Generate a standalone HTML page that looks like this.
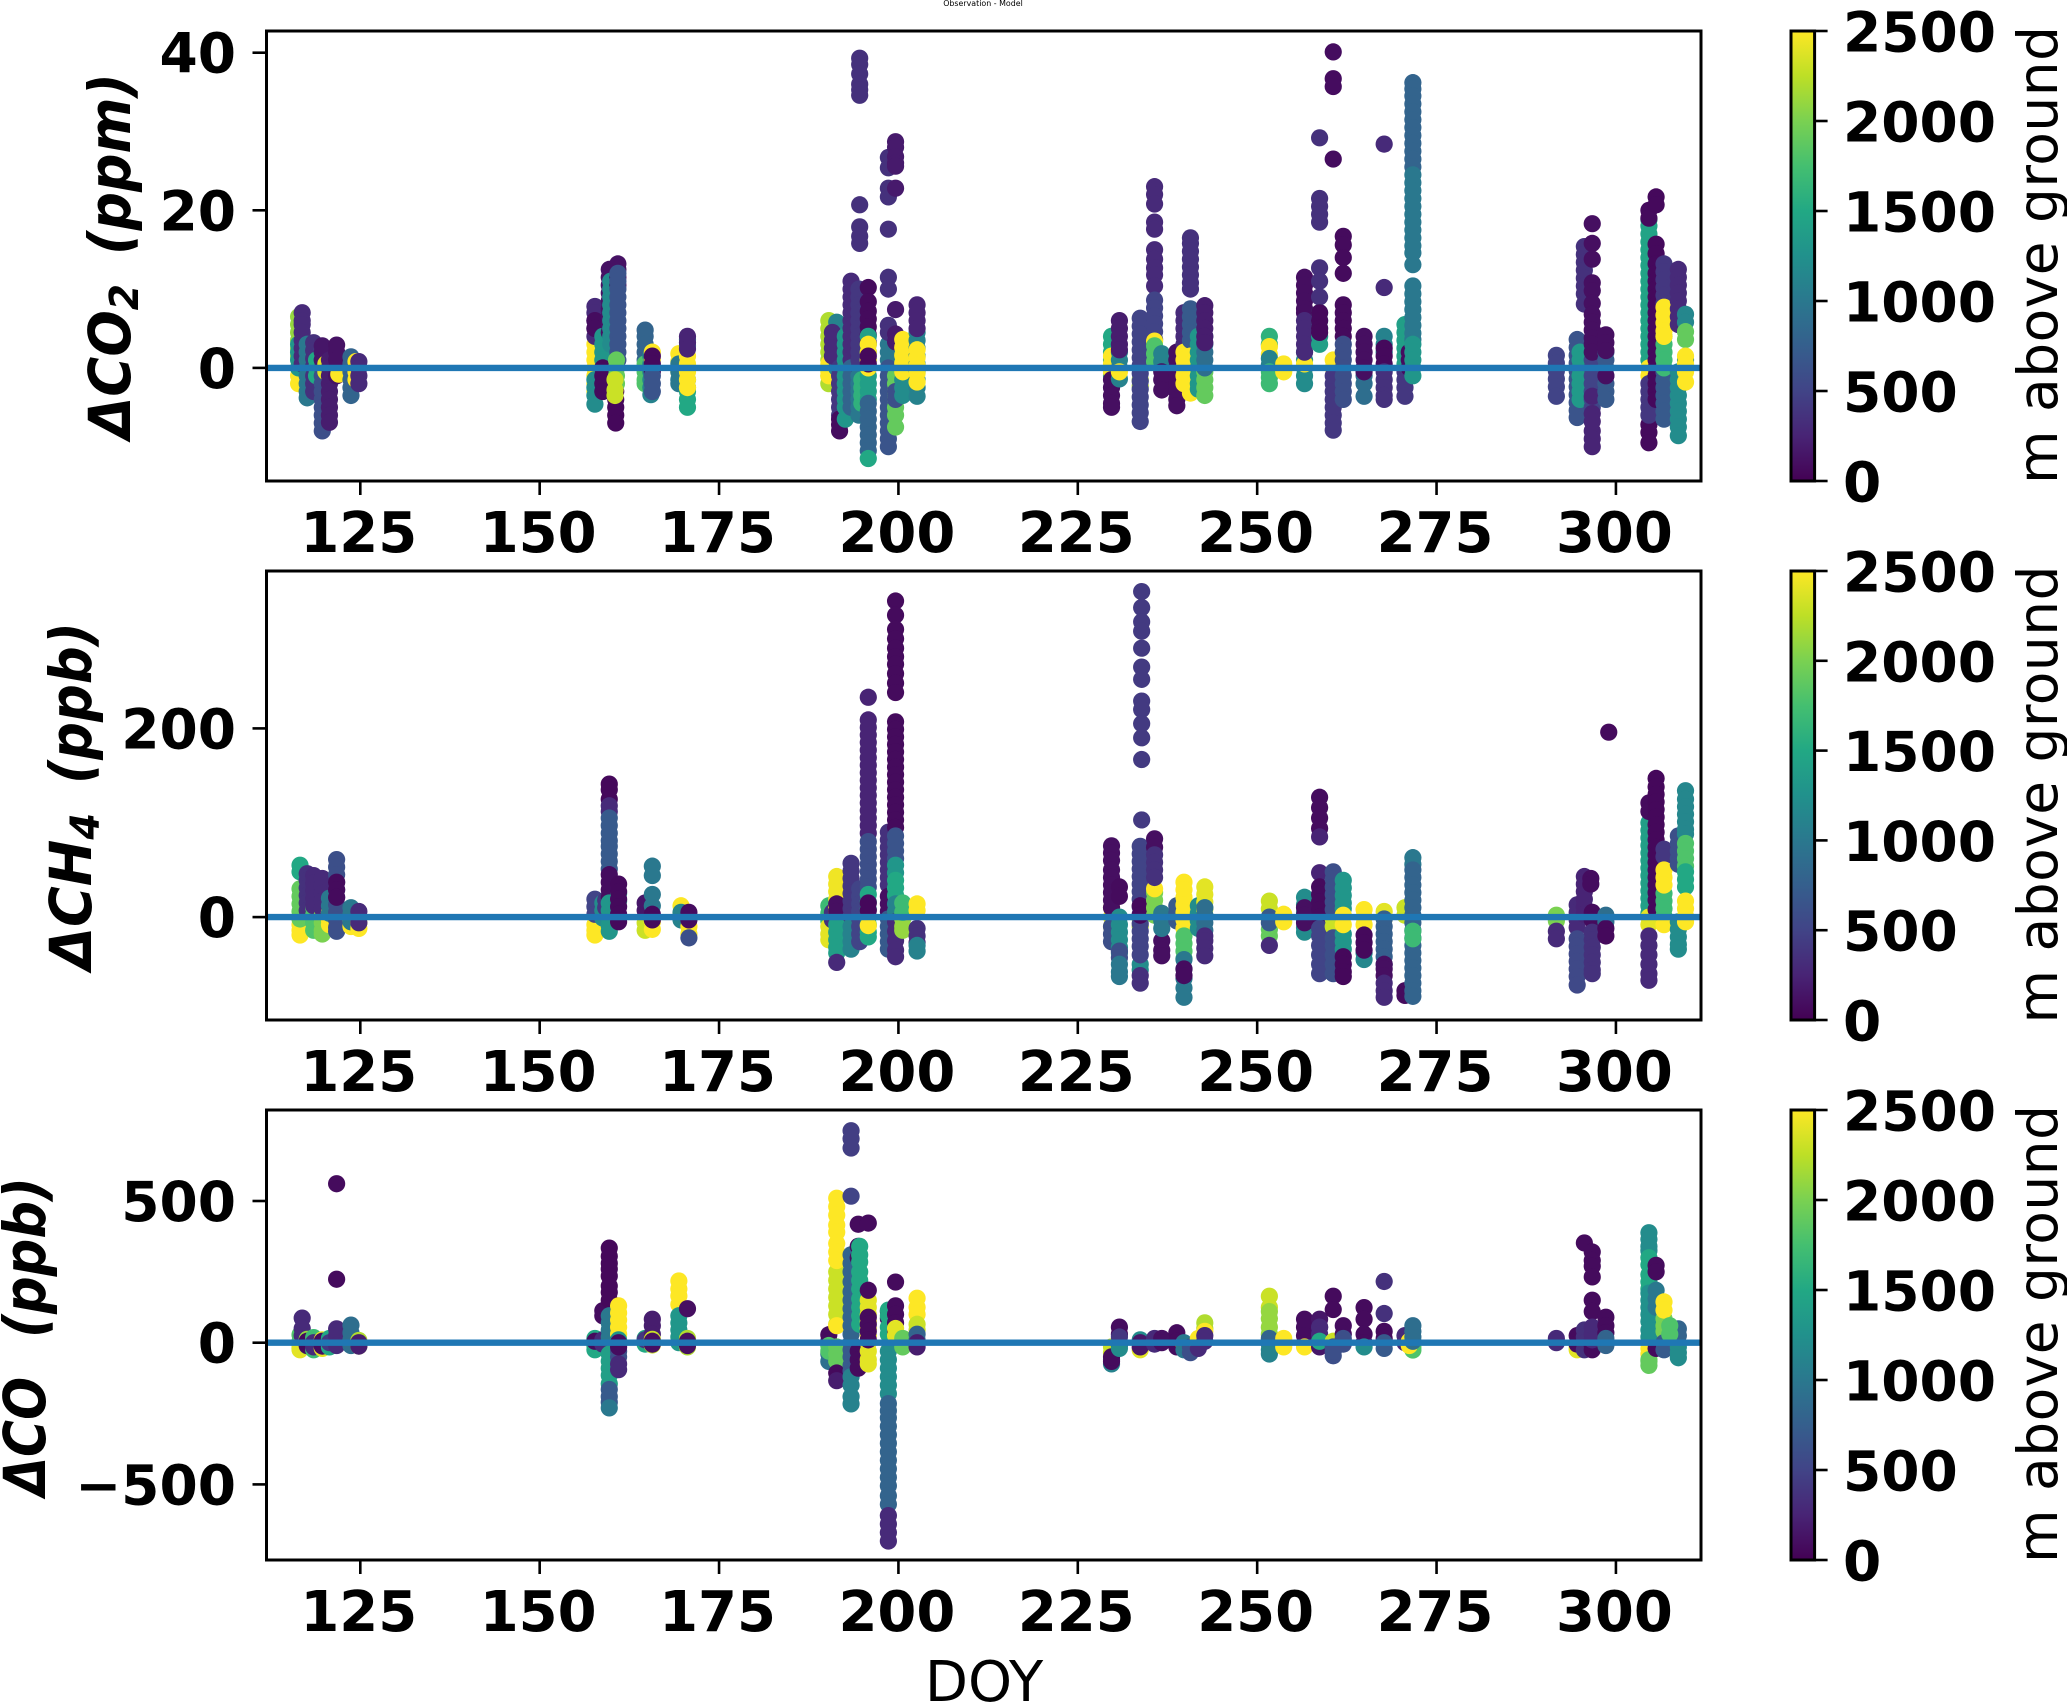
<!DOCTYPE html>
<html lang="en">
<head>
<meta charset="utf-8">
<title>Observation - Model</title>
<style>
html,body{margin:0;padding:0;background:#fff;}
svg{display:block;}
text{font-family:"DejaVu Sans","Liberation Sans",sans-serif;fill:#000;}
.tick{font-weight:700;font-size:55px;}
.xtick{font-weight:700;font-size:56px;}
.ylab{font-weight:700;font-style:italic;font-size:58px;}
</style>
</head>
<body>
<svg id="chart" xmlns="http://www.w3.org/2000/svg" width="2067" height="1703" viewBox="0 0 2067 1703">
  <defs><linearGradient id="viridis" x1="0" y1="1" x2="0" y2="0"></linearGradient></defs>
  <rect x="0" y="0" width="2067" height="1703" fill="#fff"/>
  <text x="983" y="6" text-anchor="middle" font-size="7.9">Observation - Model</text>
  <text x="984" y="1701" text-anchor="middle" font-size="56">DOY</text>
</svg>
<script>
// Shared axis values
const xTicks = [125,150,175,200,225,250,275,300];
const altTicks = [0,500,1000,1500,2000,2500];
const co2Ticks = [0,20,40];
const ch4Ticks = [0,200];
const coTicks = [-500,0,500];
const viridisStops = ["#440154","#482475","#414487","#355f8d","#2a788e","#21918c","#22a884","#44bf70","#7ad151","#bddf26","#fde725"];

// Each row: day of year, altitude (m above ground), observed differences at that day and altitude
const co2Strips = [
[116.4,2100,[6.5,5.5,4.5,3.5,2.5,1.5]],[116.4,2500,[-2,-1,0]],[116.4,1300,[3,2,1,0]],
[116.9,300,[7,6,5.5,4.5,3.5,2.5,1.5,0.5]],[117.6,1000,[3,2,1,0,-1,-2,-3,-3.8]],
[118.5,350,[3.2,2.2,1.2,0.2,-1,-2,-3]],[118.9,1500,[1,0,-1]],[119.7,600,[2.2,1,0,-1,-2,-3,-4,-5,-6,-7,-8]],
[119.7,150,[2.8,2,1]],[120.2,2400,[0.5,-0.5]],[120.7,200,[1,0,-1,-2,-3,-4,-5,-6,-6.9]],
[121.7,120,[2.9,2,1,0,-1]],[122,2500,[-0.8]],[123.7,800,[1.4,0.5,-0.5,-1.5,-2.5,-3.5]],
[124.4,2500,[0.8,-0.5,-1.5]],[124.8,300,[0.8,0,-1,-2]],
[157.7,2500,[3,2,1,0,-1,-2,-3]],[157.7,1200,[-1.5,-2.5,-3.5,-4.6]],[157.7,300,[7.8,7,6,5,4]],[157.7,80,[6,5]],
[158.8,1300,[4,3,2,1,0,-1]],[158.8,60,[0,-1,-2,-3]],[159.7,120,[12.5,11.5,10.5,9.5,8.5,7.5,6.5,5.5,4.5]],
[160.6,50,[-2,-3,-4,-5,-6,-7]],[159.9,1200,[11,10,9,8,7,6,5,4,3]],[160.9,120,[13.2,12.5,11.5,10.5]],
[160.9,650,[12,11,10,9,8,7,6,5,4,3,2,1]],[160.7,1900,[1,0,-1,-2]],[160.5,2300,[-1.5,-2.8,-3.5]],
[164.7,800,[4.8,4,3,2,1]],[164.7,1800,[0.5,-0.5,-1.5,-2]],[165.5,1100,[1.5,0.5,-0.5,-1.5,-2.5,-3.4]],
[165.7,2500,[2,1]],[165.7,60,[1.5,0.5,-0.5]],[165.7,650,[-1,-2,-3]],
[169.4,2500,[1.8,0.8,-0.5]],[169.4,1000,[0.5,-0.5,-1.5,-2]],[170.6,1500,[-3,-4,-5]],[170.6,1200,[-1.5,-2.5]],
[170.6,2500,[1.5,0.5,-0.5,-1.5,-2.5]],[170.6,1050,[3.6,2.8]],[170.6,250,[4,3.2,2.4]],
[190.3,2200,[6,5,4,3,2,1,0,-1,-2]],[190.3,2500,[-1,-0.5,0.5]],[191.4,1100,[5.8,5,4,3,2,1,0]],
[190.8,300,[4.5,3.5,2.5,1.5]],[191.8,400,[0,-1,-2,-3,-4,-5,-6]],[191.8,80,[-6.5,-7.2,-8]],
[192.6,1300,[4,3,2,1,0,-1,-2,-3,-4,-5,-6.5]],[193.4,300,[11,10,9,8,7,6,5,4,3,2,1]],[193.4,800,[0,-1,-2,-3,-4,-5]],
[194.6,350,[39.3,38.5,37.3,36,35.3,34.6,20.7,17.9,16.7,15.8]],[194.5,400,[10,9,8,7,6,5,4,3,2,1,0]],[194.5,1000,[-1,-2,-3,-4,-5,-6]],[194.9,1600,[-1.5,-2.5,-3.5,-4.5]],
[195.8,70,[10.2,8.4,7.2,6.2,5.2,4.2,3.2]],[195.8,1400,[4,3,2,1,0,-1,-2,-3,-4]],[195.8,800,[-4.5,-5.5,-6.5,-7.5,-8.5,-9.5,-10.5]],
[195.8,1500,[-11.5]],[195.8,2500,[3,2,1,0]],[195.8,60,[1.5,0.5]],
[198.6,1000,[3,2,1]],[198.6,650,[0,-1,-2,-3,-4,-5,-6,-7,-8,-9,-10]],[198.6,350,[26.7,25.4,22.8,21.7,17.6,11.5,10,5.4,4.5]],
[199.6,180,[28.7,28,26.8,26,25.6,22.8,7.4,4.3,3.3]],[199.6,1900,[-1,-2,-3,-4,-5,-6,-7.5]],[199.6,600,[-3,-4]],
[200.6,1200,[-0.5,-1.5,-2.5,-3.5]],[200.6,2500,[3.6,2.6,1.6,0.6,-0.5]],
[202.6,1100,[4.5,3.5,2.5,1.5,0.5,-0.5,-1.5,-2.5,-3.6]],[202.6,250,[8,7,6,5]],[202.6,2500,[2.3,1.3,0.3,-0.7,-1.8]],
[229.7,1500,[4,3,2,1,0,-1]],[229.7,2500,[1.5,0.5,-0.5]],[229.7,100,[-1.5,-2.5,-3.5,-4.5,-5]],
[230.8,1100,[2,1,0,-1.4]],[230.8,2500,[-0.5]],[230.8,200,[6,5,4,3,2.3]],
[233.7,2200,[-2.3,-1.5]],[233.7,500,[6.3,5.3,4.3,3.3,2.3,1.3,0.3,-0.7,-1.7,-2.7,-3.7,-4.7,-5.7,-6.8]],
[235.7,300,[23,22,20.8,18.5,17.6,15,13.8,12.7,11.8,10.4]],[235.7,500,[8.6,7.6,6.6,5.6,4.6,3.6]],[235.7,2500,[3.4]],[235.7,1800,[2.8,1.8,0.8]],
[236.7,1100,[1.8,0.8,-0.2]],[236.7,100,[-0.5,-1.5,-2.8]],
[238.8,100,[2,1,0,-1,-2,-3,-4,-4.8]],[239.8,300,[7,6,5,4,3,2,1]],[239.8,2500,[2,1,0,-1,-2]],
[240.7,350,[16.5,15.8,14.8,13.8,12.8,11.8,10.8,10]],[240.7,700,[7.5,6.5,5.5,4.5,3.5]],[240.7,2500,[1.5,0.5,-0.5,-1.5,-3.2]],
[241.8,1300,[4,3,2,1,0,-1,-2,-2.7]],[242.7,1900,[-0.5,-1.5,-2.5,-3.5]],[242.7,900,[4,3,2,1,0]],[242.7,200,[7.9,7,6,5,4,3.2]],
[251.7,1600,[4,3]],[251.7,2500,[2.7,1.7]],[251.7,1100,[1.2,0.4]],[251.7,1700,[-0.5,-1.2,-2]],
[253.7,2500,[0.5,-0.5]],[256.6,1200,[2,1,0,-1,-2]],[256.6,2500,[0.5]],[256.6,90,[11.5,10.5,9.5,8.5,7.5,7]],[256.6,300,[6,5,4,3,2]],
[258.7,350,[29.2,21.5,20.5,19.5,18.5,12.7,11,9]],[258.7,1400,[7,6,5,4,3]],[258.7,50,[7,6,5,4.5]],
[260.6,80,[40.1,36.7,35.7,26.5]],[260.6,2500,[1,0]],[260.6,400,[-1,-2,-3,-4,-5,-6,-7,-7.9]],
[262,70,[16.7,15.6,14,12,8,7,6,5,4]],[262,600,[3,2,1,0,-1,-2,-3,-4]],[264.9,900,[0,-1,-2,-3.6]],[264.9,100,[4,3,2,1,0,-0.5]],
[267.7,300,[28.4,10.2]],[267.7,1100,[4,3,2]],[267.7,60,[2.5,1.5,0.5]],[267.7,350,[-0.5,-1.5,-2.5,-3.5,-4]],
[270.6,400,[-0.5,-1.5,-2.5,-3.6]],[270.6,1400,[5.5,4.5,3.5,2.5,1.5,0.5]],[271.2,80,[2,1,0]],
[271.7,800,[36.2,35.4,34.5,33.5,32.5,31.5,30.5,29.5,28.5,27.5,26.5,25.5]],[271.7,1000,[24.5,23.5,22.5,21.5,20.5,19.5,18.5,17.5,16.5,15.5,14.6,13.1,10.4,9.4,8.4,7.4,6.4,5.4,4.4,3.6]],[271.7,1300,[3,2,1,0,-1]],
[291.7,500,[1.6,0.6,-0.4,-1.4,-2.4,-3.6]],[294.6,650,[3.6,2.6,1.6,0.6,-0.4,-1.4,-2.4,-3.4,-4.4,-5.4,-6.3]],[295,1350,[2,1,0,-1,-2,-3,-4]],
[295.6,350,[15.4,14.4,13.4,12.4,11.4,10.4,9.4,8.1]],[296.7,500,[1,0,-1,-2,-3,-4,-5]],[296.7,250,[-3.6,-5.8,-6.8,-8,-9,-10]],
[296.7,100,[18.3,15.8,13.8,10.8,9.8,8.2,6.8,5.8,4.8,3.8,3,2]],[298.6,700,[2,1,0,-1,-2,-3,-4]],[298.6,100,[4.2,3.2,2.2,-1]],
[304.6,1450,[18.8,18,17,16,15,14,13,12,11,10,9,8,7,6,5,4,3,2,1]],[304.6,70,[20,19,-7.2,-8.2,-9.5]],[304.6,2500,[0,-1]],[304.6,400,[-2,-3,-4,-5,-6]],
[305.6,60,[21.7,20.7,15.7,14.5,13.2,12,11,10,9,8,7,6,5,4,3,2,1,0,-1,-2,-3,-4]],
[306.7,700,[-0.5,-1.5,-2.5,-3.5,-4.5,-5.5,-6.5]],[306.7,400,[13.2,12.2,11.2,10.2,9.2,8.2]],[306.7,1700,[4,3,2,1,0]],[306.7,2500,[7.7,6.7,5.7,4.7,4]],
[308.7,300,[12.5,11.5,10.5,9.5,8.5,7.5,6.5,5.5]],[308.7,1200,[-0.5,-1.5,-2.5,-3.5,-4.5,-5.5,-6.5,-7.5,-8.6]],
[309.7,1150,[6.8,5.8,1,0]],[309.7,1900,[4.6,3.6]],[309.7,2500,[1.5,0.5,-0.5,-1.8]]
];

const ch4Strips = [
[116.6,2500,[-19,-14,-8,-2]],[116.6,1900,[30,22,14,6,-2]],[116.6,1500,[55,48]],[117.6,350,[46,39,31,23,15,7]],[118.5,1800,[10,2,-6,-14]],
[118.5,300,[44,36,28,20,12]],[119.7,2000,[2,-6,-14,-18]],[119.7,300,[41,33,25,17,9]],[120.7,2500,[5,-3,-8]],[120.7,1000,[20,12,4]],
[121.7,600,[61,53,45,37,29,21,13,5,-3,-11,-15]],[121.7,70,[37,29,21]],[123.7,2500,[-4,-10]],[123.7,1000,[10,3,-5]],[124.8,2500,[-6,-12]],[124.8,300,[6,0,-6]],
[157.7,2500,[-8,-14,-19]],[157.7,500,[19,11,3]],[158.8,1200,[15,7,-1]],[159.2,400,[18,10]],[159.7,50,[141,135,125]],[159.7,300,[118,112]],
[159.7,700,[105,97,89,81,75,67,59,51]],[159.7,80,[45,37,29,21]],[159.7,1300,[15,7,-1,-9,-15]],[161,1500,[25,17]],[161,60,[35,27,19,11,3,-5]],
[164.7,2300,[-6,-14]],[164.7,150,[15,7]],[165.7,1000,[54,44,24,12]],[165.7,2500,[-5,-13]],[165.7,60,[3,-3]],
[169.7,2500,[12,4]],[169.7,1100,[5,-3]],[170.8,2500,[-10,-18]],[170.8,600,[-22]],[170.8,80,[5,-3]],
[190.3,1700,[12,4,-4]],[190.3,2400,[-10,-18,-24]],[190.8,350,[5,-3]],[191.4,2450,[43,35,27,19,11,6]],[191.4,1400,[-8,-16,-24,-32,-38]],[191.4,100,[14,6]],[191.4,300,[-48]],
[193.4,400,[57,49,41,33,25,17,9,1]],[193.4,1100,[-10,-18,-26,-34]],[194.6,500,[30,22,14,6,-2,-10,-18,-26]],
[195.8,250,[233,209,201,193,185,177,169,161,153,145,137,129,121,113,105,97,89]],[195.8,600,[80,72,64,56,48,40,32]],[195.8,1500,[24,16,8,0,-8,-16,-21]],[195.8,50,[15,7]],[195.8,2500,[-9]],
[198.6,350,[90,82,74,66,58,50,42,34]],[198.6,100,[22,14,6]],[198.6,700,[-2,-10,-18,-26,-34]],
[199.6,70,[335,320,305,295,285,276,268,258,248,238,207,199,191,183,175,167,159,151,143,135,127,119,111,103,95]],[199.6,650,[86,78,70,62]],[199.6,1300,[55,47]],[199.6,1500,[39,31,23]],[199.6,1100,[14,6]],[199.6,300,[-5,-15,-25,-35,-42]],
[200.6,2100,[-2,-10,-14]],[200.6,1700,[15,5]],[202.6,2500,[14,7]],[202.6,350,[-12,-20,-27]],[202.6,1100,[-30,-36]],
[229.7,2400,[10,0,-10]],[229.7,100,[75.5,68,60,50,42,34,26,18,10]],[229.7,600,[-10,-18,-26]],[230.8,1200,[0,-8,-16,-24,-32,-38]],[230.8,600,[-36,-43]],[230.8,1000,[-50,-58,-63]],[230.8,70,[32,22]],
[233.7,1200,[-50,-56]],[233.7,350,[-62,-70]],[233.7,2200,[-2,-10]],[233.7,500,[75,67,59,51,43,35,27,19,11,3,-7,-15,-23,-31,-40]],[233.7,60,[12,2]],
[233.9,420,[345,328,313,303,285,265,252,229,220,205,190,167,103]],
[235.7,2000,[26,18,10,2]],[235.7,2500,[30]],[235.7,100,[83,74]],[235.7,350,[66,58,50,42]],[236.7,100,[-25,-35,-41]],[236.7,1000,[4,-4,-12]],
[238.8,700,[12,4,-4]],[239.8,2500,[37,29,21,13,5,-3,-12]],[239.8,1800,[-20,-28,-36,-44]],[239.8,1000,[-45,-55,-65,-75,-85]],[239.8,80,[-55,-62]],
[241.8,1200,[12,4,-4,-12]],[242.7,2400,[32,24,16,8]],[242.7,1900,[10,2]],[242.7,900,[10,2,-6,-14]],[242.7,300,[-20,-25,-33,-41]],
[251.7,2300,[17,9]],[251.7,2500,[-3]],[251.7,1900,[-13,-20]],[251.7,700,[0,-6]],[251.7,300,[-30]],[253.7,2500,[3,-5]],
[256.6,1200,[21,13,5,-3,-11,-16]],[256.6,100,[10,2,-6]],
[258.7,80,[127,116,105,94]],[258.7,250,[85,47]],[258.7,70,[32,24,16,8,0]],[258.7,500,[-12,-20,-30,-40,-50,-60]],
[260.6,2300,[-2,-10]],[260.6,600,[48,40,32,24,16,8,-22,-30,-40,-50,-60]],[262,1300,[39,31,23,15,9,-18,-26,-34]],[262,2500,[2,-8]],[262,50,[-42,-50,-58,-63]],
[264.9,1150,[-45,-38]],[264.9,2500,[8,0,-8]],[264.9,60,[-19,-27,-35]],
[267.7,2400,[6,-2]],[267.7,750,[-2,-10,-18,-26,-34,-42,-50]],[267.7,100,[-50,-55,-62]],[267.7,300,[-70,-78,-85]],
[270.6,2300,[10,2]],[270.6,70,[-78,-83]],[271.7,1000,[63,56]],[271.7,800,[50,42,34,26,18,10,2,-6,-14,-22,-30,-38,-46,-54,-62,-70,-78,-84]],[271.7,1700,[-15,-23]],
[291.7,2000,[2,-4]],[291.7,300,[-15,-23]],[294.6,300,[13,5,-3,-11]],[294.6,550,[-23,-31,-39,-47,-55,-63,-72]],[295.6,250,[43,35,27,19,11,3]],
[296.5,80,[41,35]],[296.7,70,[5,-3]],[296.7,350,[-16,-24,-32,-40,-48,-56,-60]],[298.6,900,[2,-5]],[298.6,60,[-12,-20]],
[299,70,[196]],
[304.6,1400,[100,92,84,76,68,60,52,44,36,28,20,12,4]],[304.6,70,[121,112]],[304.6,2400,[0,-8]],[304.6,300,[-20,-30,-40,-50,-60,-67]],
[305.6,50,[147,138,130,122,114,106,98,90,82,74,66,58,50,42,34,26,18,8]],[306.7,400,[72,64]],[306.7,1700,[25,17,9,1]],[306.7,2500,[50,42,34,-8]],
[308.7,600,[86,78,70,62,56]],[308.7,1200,[-5,-13,-21,-29,-34]],
[309.7,1150,[134,125,117,109,101,93,88]],[309.7,1800,[78,70,62,54]],[309.7,1500,[48,40,32]],[309.7,2500,[17,9,1,-5]]
];

const coStrips = [
[116.6,1800,[28,5,-20]],[116.6,2400,[-25,-10]],[116.9,300,[87,50,25]],[117.6,2100,[12,-12]],[117.6,60,[5,-10]],[118.5,1700,[18,-25]],[118.5,300,[0,-15]],
[119.7,2400,[10,-20]],[119.7,80,[5,-12]],[120.7,1500,[15,-15]],[120.7,400,[0]],[121.7,70,[561,224]],[121.7,300,[49,25,0,-10]],
[123.7,900,[62,35,10,-10]],[124.8,2200,[-12,8]],[124.8,200,[0,-12]],
[157.7,1500,[15,-10,-25]],[157.7,70,[5]],[158.8,80,[113,95]],[158.8,2300,[0]],[158.8,300,[10,-5]],
[159.7,50,[334,305,280,260,235,200,178,150]],[159.7,1000,[95,70,45,20]],[159.7,1400,[-40,-65,-90,-115,-145]],[159.7,700,[-165,-190,-210]],[159.7,1000,[-230]],
[161,2500,[130,105,80,55,30]],[161,1300,[10]],[161,600,[-30,-50]],[161,300,[-75,-95]],[161,80,[0,-15]],
[164.7,1500,[15,-5]],[164.7,400,[10]],[165.7,200,[83,60,30]],[165.7,2300,[-8,12]],[165.7,100,[5,-5]],
[169.4,2500,[218,190,165,135]],[169.4,1300,[95,70,45,20,0]],[170.6,2200,[-15,15]],[170.6,100,[120,5,-10]],
[190.3,70,[28,5]],[190.3,900,[-40,-66]],[190.3,1800,[-10,-30]],[191.4,2300,[250,220,190,160,130,100,65]],[191.4,2500,[510,480,450,415,390,350,320,290,60]],[191.4,1900,[-15,-40,-65]],[191.4,60,[-107]],[191.4,200,[-134]],
[193.4,450,[748,720,687]],[193.4,500,[517]],[193.4,800,[310,280,250,215,180,150,120,90,60,30,0]],[193.4,700,[-25,-50,-80,-100]],[193.4,1100,[-120,-150,-190,-216]],
[194.4,70,[418,340,300]],[195.8,70,[422]],[194.6,1500,[340,310,285,250,220,190,155,125,95,65]],[194.4,70,[-30,-60,-90]],
[195.8,2400,[150,125,100,75,50,25,0,-30,-60,-75]],[195.8,70,[185,90,65,40,10]],
[198.6,80,[110,85]],[198.6,1500,[115,95,55,30]],[198.6,1200,[-30,-60,-90,-120,-150,-180]],[198.6,800,[-215,-240,-265,-295,-325,-355,-385,-415,-445,-475,-505,-540,-570]],[198.6,300,[-610,-640,-670,-700]],
[199.6,70,[214,130,100,70,40]],[199.6,2400,[50,25]],[200.6,1900,[15,-15]],[202.6,2500,[157,125,100]],[202.6,2300,[65,45]],[202.6,800,[30,10]],[202.6,200,[0,-15]],
[229.7,2300,[-15,-35]],[229.7,1100,[-60,-75]],[229.7,70,[-66,-50]],[230.8,80,[55,30]],[230.8,400,[20,-10]],[230.8,1200,[-20]],
[233.7,2400,[-25]],[233.7,1200,[10]],[233.7,150,[0,-15]],[235.7,2300,[5]],[235.7,300,[15,-5]],[236.7,100,[15,0]],
[238.8,70,[35,5,-15]],[239.8,2400,[-5]],[239.8,1000,[0,-25]],[240.7,600,[-15,-35]],[241.8,2500,[15,-5]],[241.8,300,[-20]],
[242.7,2200,[70,50]],[242.7,2500,[40]],[242.7,300,[25,5]],
[251.7,2300,[164,125]],[251.7,2100,[110,85,55,30]],[251.7,800,[15,-5]],[251.7,1100,[-25,-40]],[253.7,2500,[15,-5,-15]],
[256.6,80,[83,55,25]],[256.6,2500,[-15]],[258.7,150,[83,55,20,0,-15]],[258.7,300,[55,30]],[258.7,1500,[5]],
[260.6,70,[164,117]],[260.6,2300,[5]],[260.6,600,[-15,-46,-30]],[262,80,[60,30,5]],[262,600,[15,-5]],
[264.9,70,[124,83,30,0]],[264.9,1200,[-15]],[267.7,350,[216,103]],[267.7,70,[40,15]],[267.7,700,[0,-20]],
[270.6,300,[25,0]],[271.7,1800,[-26,-15]],[271.2,2500,[5,-10]],[271.7,900,[60,40,20,5]],
[291.7,300,[15,0]],[294.6,2400,[-15,-25]],[294.6,70,[25,-5]],[295.6,70,[352]],[295.6,350,[45,20,0,-25]],
[296.7,70,[320,290,270,232,150,110,-10,-25]],[296.7,300,[55,30,10]],[298.6,70,[90,60,35]],[298.6,800,[15,-10]],
[304.6,1200,[388,365,340,325]],[304.6,1500,[300,275,240,215,190]],[304.6,1250,[175,150,125,100,75,45,20]],[304.6,2500,[-20,-40]],[304.6,1900,[-60,-80,-65]],[305.6,70,[273,250,-20]],[305.6,1000,[185,155,125]],
[306.7,2000,[85,60,40]],[306.7,2500,[144,115]],[306.7,700,[0,-25]],[308.7,1200,[-15,-35,-53]],[308.7,800,[49,25]],[307.5,1800,[60,30]]
];

// Axis functions and figure layout
const svgNS = "http://www.w3.org/2000/svg";
const chart = document.getElementById("chart");
function xScale(day){ return 360.3 + (day - 125) * 7.175; }
function viridis(alt){
  const t = Math.max(0, Math.min(1, alt / 2500)) * (viridisStops.length - 1);
  const i = Math.min(Math.floor(t), viridisStops.length - 2);
  const f = t - i;
  const a = viridisStops[i], b = viridisStops[i + 1];
  let out = "rgb(";
  for (let k = 0; k < 3; k++) {
    const ca = parseInt(a.substr(1 + k * 2, 2), 16), cb = parseInt(b.substr(1 + k * 2, 2), 16);
    out += Math.round(ca + (cb - ca) * f) + (k < 2 ? "," : ")");
  }
  return out;
}
function make(tag, attrs, parent){
  const el = document.createElementNS(svgNS, tag);
  for (const k in attrs) el.setAttribute(k, attrs[k]);
  parent.appendChild(el);
  return el;
}
const grad = document.getElementById("viridis");
viridisStops.forEach(function(c, i){
  make("stop", {offset: (i / (viridisStops.length - 1)), "stop-color": c}, grad);
});

const panels = [
  {key:"co2", top:31, bottom:481, zero:367.9, perUnit:7.88, strips:co2Strips, ticks:co2Ticks, labelX:130, nameStart:439, nameLen:155, unitStart:255, unitLen:182, species:"ΔCO", sub:"2", unit:"(ppm)"},
  {key:"ch4", top:571, bottom:1020, zero:917.1, perUnit:0.9435, strips:ch4Strips, ticks:ch4Ticks, labelX:91, nameStart:970, nameLen:157, unitStart:784, unitLen:162, species:"ΔCH", sub:"4", unit:"(ppb)"},
  {key:"co", top:1110, bottom:1560, zero:1342.7, perUnit:0.2834, strips:coStrips, ticks:coTicks, labelX:45, nameStart:1496, nameLen:119, unitStart:1338, unitLen:161, species:"ΔCO", sub:"", unit:"(ppb)"}
];
const L = 266.5, R = 1701, CL = 1791, CR = 1814.6;

panels.forEach(function(p){
  function yScale(v){ return p.zero - v * p.perUnit; }
  const g = make("g", {}, chart);
  
  

  const pts = make("g", {}, g);
  
  
  p.strips.forEach(function(row){
    const day = row[0], alt = row[1], values = row[2];
    values.forEach(function(v){
      const c = make("circle", {cx:xScale(day), cy:yScale(v), r:8.6, fill:viridis(alt)}, pts);
      
      
    });
  });

  const zero = make("line", {x1:L, x2:R, y1:yScale(0), y2:yScale(0), stroke:"#1f77b4", "stroke-width":6.4}, g);
  
  

  const frame = make("rect", {x:L, y:p.top, width:R - L, height:p.bottom - p.top, fill:"none", stroke:"#000", "stroke-width":3}, g);
  
  

  xTicks.forEach(function(t){
    const m = make("line", {x1:xScale(t), x2:xScale(t), y1:p.bottom, y2:p.bottom + 14, stroke:"#000", "stroke-width":2.6}, g);
    
    
    const lab = make("text", {x:xScale(t) - 1.5, y:p.bottom + 71, "text-anchor":"middle", class:"xtick"}, g);
    lab.textContent = t;
    
    
  });
  p.ticks.forEach(function(t){
    const m = make("line", {x1:L - 14, x2:L, y1:yScale(t), y2:yScale(t), stroke:"#000", "stroke-width":2.6}, g);
    
    
    const lab = make("text", {x:236, y:yScale(t) + 20, "text-anchor":"end", class:"tick"}, g);
    lab.textContent = t < 0 ? "\u2212" + Math.abs(t) : t;
    
    
  });

  const speciesLabel = make("text", {transform:"translate(" + p.labelX + "," + p.nameStart + ") rotate(-90)", class:"ylab", textLength:p.nameLen, lengthAdjust:"spacingAndGlyphs"}, g);
  
  
  const t1 = make("tspan", {}, speciesLabel);
  t1.textContent = p.species;
  if (p.sub) {
    const t2 = make("tspan", {"font-size":40, dy:8}, speciesLabel);
    t2.textContent = p.sub;
  }
  const unitLabel = make("text", {transform:"translate(" + p.labelX + "," + p.unitStart + ") rotate(-90)", class:"ylab", textLength:p.unitLen, lengthAdjust:"spacingAndGlyphs"}, g);
  unitLabel.textContent = p.unit;
  
  

  const h = p.bottom - p.top;
  const bar = make("rect", {x:CL, y:p.top, width:CR - CL, height:h, fill:"url(#viridis)", stroke:"#000", "stroke-width":3}, g);
  
  
  altTicks.forEach(function(a){
    const y = p.bottom - a / 2500 * h;
    const m = make("line", {x1:CR, x2:CR + 13, y1:y, y2:y, stroke:"#000", "stroke-width":2.6}, g);
    
    
    const lab = make("text", {x:1843, y:y + 20.5, class:"tick"}, g);
    lab.textContent = a;
    
    
  });
  const cl = make("text", {transform:"translate(2057," + ((p.top + p.bottom) / 2 - 1) + ") rotate(-90)", "text-anchor":"middle", "font-size":55, textLength:458}, g);
  cl.textContent = "m above ground";
  
  
});
</script>
</body>
</html>
